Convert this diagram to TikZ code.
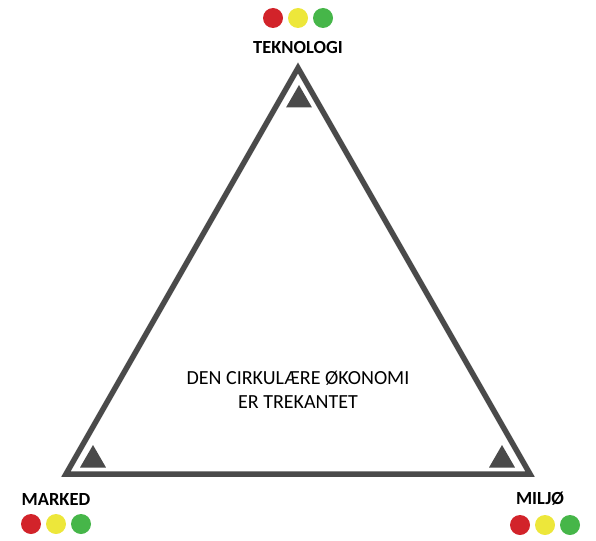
\documentclass[tikz,border=0pt]{standalone}
\usepackage{fontspec}
\setmainfont{Carlito}
\usetikzlibrary{shapes.geometric}

\definecolor{edgegray}{HTML}{4A4A4A}
\definecolor{lampred}{HTML}{D2232A}
\definecolor{lampyellow}{HTML}{EDE73A}
\definecolor{lampgreen}{HTML}{46B649}

\begin{document}
\begin{tikzpicture}[x=1pt, y=-1pt,
corner/.style={regular polygon, regular polygon sides=3, fill=edgegray,
      minimum size=30pt, inner sep=0pt, outer sep=0pt},
lamp/.style={circle, minimum size=20pt, inner sep=0pt},
label/.style={font=\bfseries\fontsize{18.5}{18.5}\selectfont, inner sep=0pt},
center/.style={font=\fontsize{20}{24}\selectfont, align=center, inner sep=0pt}]
 \useasboundingbox (0,0) rectangle (596,540);
 % triangle
 \coordinate (top) at (298,68);
 \coordinate (left) at (66,474);
 \coordinate (right) at (530,474);
 \draw[edgegray, line width=5.5pt, line join=miter] (top) -- (left) -- (right) -- cycle;

 \node[corner] (tmark) at (299,100) {};
 \node[corner] (lmark) at (93,460) {};
 \node[corner] (rmark) at (502,460) {};

 \node[center] (eco) at (298,390) {DEN CIRKULÆRE ØKONOMI\\ER TREKANTET};

 % labels
 \node[label] (tek) at (298,47) {TEKNOLOGI};
 \node[label] (mar) at (56,499) {MARKED};
 \node[label] (mil) at (540,499) {MILJØ};

 % lamps
 \node[lamp, fill=lampred] (tekr) at (273,18) {};
 \node[lamp, fill=lampyellow] (teky) at (298,18) {};
 \node[lamp, fill=lampgreen] (tekg) at (323,18) {};
 \node[lamp, fill=lampred] (marr) at (31,524) {};
 \node[lamp, fill=lampyellow] (mary) at (56,524) {};
 \node[lamp, fill=lampgreen] (marg) at (81,524) {};
 \node[lamp, fill=lampred] (milr) at (520,525) {};
 \node[lamp, fill=lampyellow] (mily) at (545,525) {};
 \node[lamp, fill=lampgreen] (milg) at (570,525) {};
\end{tikzpicture}
\end{document}
